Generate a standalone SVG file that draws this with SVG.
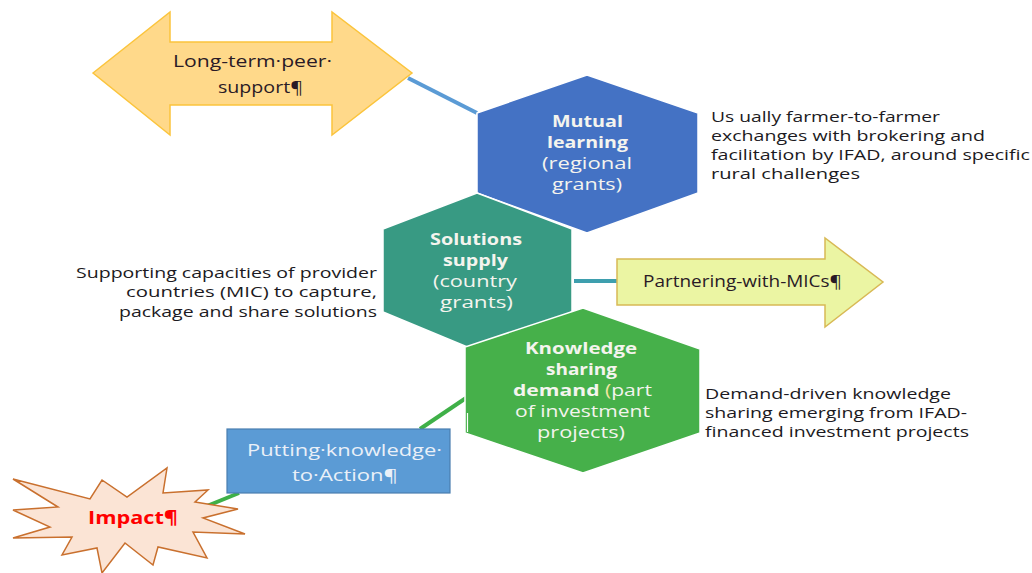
<svg xmlns="http://www.w3.org/2000/svg" width="1032" height="573" viewBox="0 0 1032 573">
<style>
.hex{stroke:#ffffff;stroke-width:1.5}
.ht{font-family:"Open Sans","Liberation Sans",sans-serif;font-size:16.5px;fill:#F4F4EE;text-anchor:start}
.b{font-weight:bold}
.side{font-family:"Open Sans","Liberation Sans",sans-serif;font-size:15px;fill:#1c1a22}
.lbl{font-family:"Open Sans","Liberation Sans",sans-serif;font-size:16px;fill:#2a1a26}
.con{fill:none;stroke-width:4;stroke-linecap:butt}
</style>
<rect width="1032" height="573" fill="#ffffff"/>
<g id="connectors">
  <line class="con" x1="408" y1="78" x2="477" y2="113" stroke="#5B9BD5"/>
  <line class="con" x1="574" y1="281" x2="618" y2="281" stroke="#3E9FAE"/>
  <line class="con" x1="466" y1="398" x2="420" y2="429" stroke="#3FB048"/>
  <line class="con" x1="239" y1="493" x2="197" y2="510" stroke="#3FB048"/>
</g>
<g id="peer-support">
  <polygon points="93,73 170,12 170,42 332,42 332,12 412,73 332,135 332,105 170,105 170,135" fill="#FFD98A" stroke="#FBC43C" stroke-width="1.5"/>
  <text class="lbl" x="173" y="67" textLength="159" lengthAdjust="spacingAndGlyphs">Long-term·peer·</text>
  <text class="lbl" x="218" y="93" textLength="85" lengthAdjust="spacingAndGlyphs">support¶</text>
</g>
<g id="mutual-learning">
  <polygon class="hex" points="587,75 698,113 698,193 587,233 477,193 477,113" fill="#4472C4"/>
  <text class="ht b" x="552" y="127" textLength="71" lengthAdjust="spacingAndGlyphs">Mutual</text>
  <text class="ht b" x="547" y="148" textLength="81" lengthAdjust="spacingAndGlyphs">learning</text>
  <text class="ht" x="542" y="169" textLength="90" lengthAdjust="spacingAndGlyphs">(regional</text>
  <text class="ht" x="552" y="190" textLength="70" lengthAdjust="spacingAndGlyphs">grants)</text>
</g>
<g id="solutions-supply">
  <polygon class="hex" points="477,193 572,229 572,312 477,351 383,312 383,229" fill="#389A83"/>
  <text class="ht b" x="430" y="245" textLength="92" lengthAdjust="spacingAndGlyphs">Solutions</text>
  <text class="ht b" x="443" y="266" textLength="65" lengthAdjust="spacingAndGlyphs">supply</text>
  <text class="ht" x="433" y="287" textLength="84" lengthAdjust="spacingAndGlyphs">(country</text>
  <text class="ht" x="440" y="308" textLength="73" lengthAdjust="spacingAndGlyphs">grants)</text>
</g>
<g id="knowledge-demand">
  <polygon class="hex" points="583,308 700,349 700,433 583,473 465,433 465,347" fill="#46B04A"/>
  <line x1="467.5" y1="413" x2="467.5" y2="432" stroke="#ffffff" stroke-width="1.2"/>
  <text class="ht b" x="525" y="354" textLength="112" lengthAdjust="spacingAndGlyphs">Knowledge</text>
  <text class="ht b" x="546" y="375" textLength="71" lengthAdjust="spacingAndGlyphs">sharing</text>
  <text class="ht" x="513" y="396" textLength="139" lengthAdjust="spacingAndGlyphs"><tspan class="b">demand</tspan> <tspan fill="#F2E6A0">(</tspan>part</text>
  <text class="ht" x="515" y="417" textLength="135" lengthAdjust="spacingAndGlyphs">of investment</text>
  <text class="ht" x="537" y="438" textLength="88" lengthAdjust="spacingAndGlyphs">projects)</text>
</g>
<g id="partnering-mics">
  <polygon points="617,259 825,259 825,238 883,282 825,327 825,305 617,305" fill="#EBF5A3" stroke="#D8B955" stroke-width="1.5"/>
  <text class="lbl" x="643" y="287" textLength="199" lengthAdjust="spacingAndGlyphs">Partnering-with-MICs¶</text>
</g>
<g id="putting-knowledge">
  <rect x="227" y="429" width="223" height="64" fill="#5B9BD5" stroke="#4A7EB0" stroke-width="1.2"/>
  <text class="lbl" x="247" y="456" style="fill:#EAF0F8" textLength="195" lengthAdjust="spacingAndGlyphs">Putting·knowledge·</text>
  <text class="lbl" x="292" y="481" style="fill:#EAF0F8" textLength="106" lengthAdjust="spacingAndGlyphs">to·Action¶</text>
</g>
<g id="impact">
  <polygon points="13,479 90,499 102,480 127,497 167,468 163,493 208,490 195,502 238,509 203,518 245,534 193,532 207,558 158,547 153,565 125,543 102,573 97,548 62,555 72,537 13,538 50,527 13,510 58,507" fill="#FBE4D5" stroke="#C9702E" stroke-width="1.5" stroke-linejoin="miter"/>
  <text x="88" y="524" font-family="'Open Sans','Liberation Sans',sans-serif" font-size="17" font-weight="bold" fill="#FF0000" textLength="90" lengthAdjust="spacingAndGlyphs">Impact¶</text>
</g>
<g id="notes">
  <text class="side" x="711" y="122" textLength="229" lengthAdjust="spacingAndGlyphs">Us ually farmer-to-farmer</text>
  <text class="side" x="711" y="141" textLength="274" lengthAdjust="spacingAndGlyphs">exchanges with brokering and</text>
  <text class="side" x="711" y="160" textLength="319" lengthAdjust="spacingAndGlyphs">facilitation by IFAD, around specific</text>
  <text class="side" x="711" y="179" textLength="149" lengthAdjust="spacingAndGlyphs">rural challenges</text>
  <text class="side" x="76" y="278" textLength="301" lengthAdjust="spacingAndGlyphs">Supporting capacities of provider</text>
  <text class="side" x="126" y="297" textLength="251" lengthAdjust="spacingAndGlyphs">countries (MIC) to capture,</text>
  <text class="side" x="119" y="317" textLength="258" lengthAdjust="spacingAndGlyphs">package and share solutions</text>
  <text class="side" x="705" y="399" textLength="246" lengthAdjust="spacingAndGlyphs">Demand-driven knowledge</text>
  <text class="side" x="705" y="418" textLength="262" lengthAdjust="spacingAndGlyphs">sharing emerging from IFAD-</text>
  <text class="side" x="705" y="437" textLength="264" lengthAdjust="spacingAndGlyphs">financed investment projects</text>
</g>
</svg>
